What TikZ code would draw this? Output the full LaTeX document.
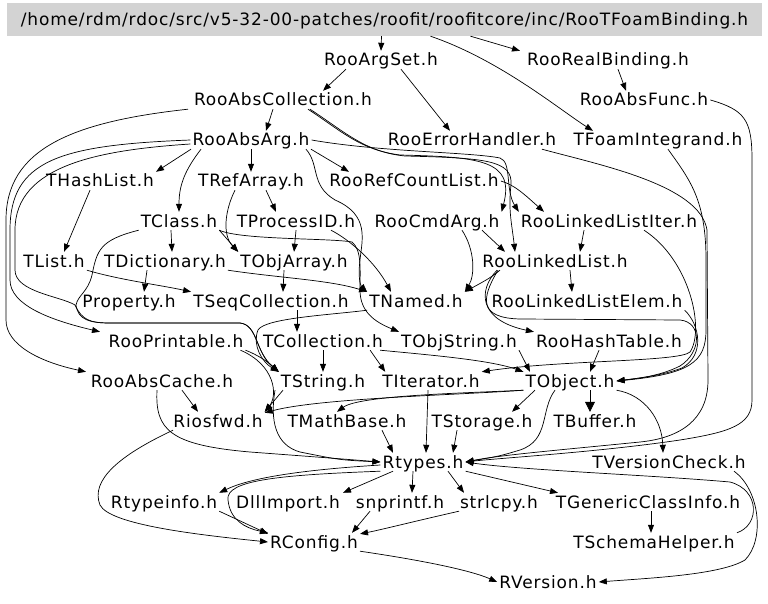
\documentclass[tikz,border=0pt]{standalone}
\usepackage{fontspec}
\newfontfamily\dvs{DejaVu Sans}[LetterSpace=5]
\usetikzlibrary{arrows.meta}
\tikzset{
  hdr/.style={font=\dvs\fontsize{17}{19}\selectfont, inner xsep=2pt, inner ysep=3pt, text height=12pt, text depth=0pt},
  topbox/.style={hdr, fill={rgb,255:red,211;green,211;blue,211}, minimum width=755pt, minimum height=33pt},
  e/.style={draw=black, line width=0.7pt, -{Triangle[length=8pt,width=6pt]}},
  eb/.style={draw=black, line width=0.7pt, -{Triangle[length=10pt,width=10pt]}},
}
\begin{document}
\begin{tikzpicture}[x=1pt,y=-1pt]
\useasboundingbox (0,0) rectangle (768,604);
\node[topbox] (top) at (384.5,19.5) {/home/rdm/rdoc/src/v5-32-00-patches/roofit/roofitcore/inc/RooTFoamBinding.h};
\node[hdr] (argset) at (381,60) {RooArgSet.h};
\node[hdr] (realbind) at (608,60) {RooRealBinding.h};
\node[hdr] (abscoll) at (283,100) {RooAbsCollection.h};
\node[hdr] (absfunc) at (644,100) {RooAbsFunc.h};
\node[hdr] (absarg) at (251,140) {RooAbsArg.h};
\node[hdr] (errh) at (472,140) {RooErrorHandler.h};
\node[hdr] (foam) at (658,140) {TFoamIntegrand.h};
\node[hdr] (hashlist) at (100,181) {THashList.h};
\node[hdr] (refarray) at (251,181) {TRefArray.h};
\node[hdr] (refcount) at (414,181) {RooRefCountList.h};
\node[hdr] (tclass) at (179,221) {TClass.h};
\node[hdr] (procid) at (296,221) {TProcessID.h};
\node[hdr] (cmdarg) at (437,221) {RooCmdArg.h};
\node[hdr] (lliter) at (609,221) {RooLinkedListIter.h};
\node[hdr] (tlist) at (54,261) {TList.h};
\node[hdr] (tdict) at (165,261) {TDictionary.h};
\node[hdr] (objarray) at (294,261) {TObjArray.h};
\node[hdr] (llist) at (555,261) {RooLinkedList.h};
\node[hdr] (prop) at (129,301) {Property.h};
\node[hdr] (seqcoll) at (271,301) {TSeqCollection.h};
\node[hdr] (tnamed) at (416,301) {TNamed.h};
\node[hdr] (llelem) at (587,301) {RooLinkedListElem.h};
\node[hdr] (printable) at (176,341) {RooPrintable.h};
\node[hdr] (tcoll) at (323,341) {TCollection.h};
\node[hdr] (objstring) at (459,341) {TObjString.h};
\node[hdr] (hashtable) at (609,341) {RooHashTable.h};
\node[hdr] (abscache) at (162,381) {RooAbsCache.h};
\node[hdr] (tstring) at (323,381) {TString.h};
\node[hdr] (titer) at (431,381) {TIterator.h};
\node[hdr] (tobject) at (570,381) {TObject.h};
\node[hdr] (riosfwd) at (218,421) {Riosfwd.h};
\node[hdr] (mathbase) at (347,421) {TMathBase.h};
\node[hdr] (storage) at (482,421) {TStorage.h};
\node[hdr] (tbuffer) at (595,421) {TBuffer.h};
\node[hdr] (rtypes) at (423,462) {Rtypes.h};
\node[hdr] (vcheck) at (669,462) {TVersionCheck.h};
\node[hdr] (rtypeinfo) at (164,502) {Rtypeinfo.h};
\node[hdr] (dllimport) at (288,502) {DllImport.h};
\node[hdr] (snprintf) at (400,502) {snprintf.h};
\node[hdr] (strlcpy) at (499,502) {strlcpy.h};
\node[hdr] (genclass) at (648,502) {TGenericClassInfo.h};
\node[hdr] (rconfig) at (314,542) {RConfig.h};
\node[hdr] (schema) at (654,542) {TSchemaHelper.h};
\node[hdr] (rversion) at (548,582) {RVersion.h};

% top level
\draw[e] ([xshift=-3]top.south) -- (argset.north);
\draw[e] ([xshift=86]top.south) -- ([xshift=-88]realbind.north);
\draw[e] ([xshift=46]top.south) .. controls (500,60) and (560,110) .. ([xshift=-65]foam.north);
\draw[e] ([xshift=-35]argset.south) -- ([xshift=40]abscoll.north);
\draw[e] ([xshift=20]argset.south) -- ([xshift=-22]errh.north);
\draw[e] ([xshift=10]realbind.south) -- ([xshift=-18]absfunc.north);
\draw[e] ([xshift=-10]abscoll.south) -- ([xshift=15]absarg.north);
% left side long curves
\draw[e] ([xshift=-95]abscoll.south) .. controls (70,122) and (6,150) .. (6,220) -- (6,320) .. controls (6,345) and (40,362) .. ([xshift=-76]abscache.north);
\draw[e] (absarg.west) .. controls (60,145) and (10,160) .. (10,230) -- (10,280) .. controls (10,305) and (50,320) .. ([xshift=-76]printable.north);
\draw[e] ([yshift=-4]absarg.west) .. controls (100,150) and (15,165) .. (15,230) -- (15,270) .. controls (15,292) and (60,296) .. (75,305) .. controls (82,320) and (90,323) .. (110,323) -- (240,323) .. controls (258,325) and (255,352) .. (tstring.north west);
% RooAbsArg
\draw[e] ([xshift=-60]absarg.south) -- (hashlist.north east);
\draw[e] (absarg.south) -- (refarray.north);
\draw[e] ([xshift=60]absarg.south) -- ([xshift=-65]refcount.north);
\draw[e] ([xshift=-50]absarg.south) .. controls (185,170) and (179,185) .. (tclass.north);
\draw[e] ([xshift=55]absarg.south) .. controls (320,165) and (310,185) .. (335,200) .. controls (370,215) and (362,240) .. (360,260) .. controls (358,275) and (360,285) .. (tnamed.north west);
\draw[e] (absarg.east) .. controls (380,152) and (470,152) .. (500,158) .. controls (512,162) and (505,190) .. (lliter.north west);
% RooAbsCollection right bundle
\draw[e] ([xshift=25]abscoll.south) .. controls (340,130) and (360,150) .. (400,155) .. controls (480,157) and (515,160) .. (cmdarg.north east);
\draw[e] ([xshift=27]abscoll.south) .. controls (345,132) and (365,152) .. (405,156) .. controls (485,158) and (513,160) .. (511,185) .. controls (508,210) and (512,225) .. ([xshift=-40]llist.north);
\draw[e] (refcount.east) .. controls (515,185) and (525,195) .. ([xshift=-65]lliter.north);
% middle
\draw[e] ([xshift=-10]hashlist.south) -- ([xshift=10]tlist.north);
\draw[e] ([xshift=15]refarray.south) -- ([xshift=-20]procid.north);
\draw[e] ([xshift=-16]refarray.south) .. controls (225,210) and (222,235) .. (objarray.north west);
\draw[e] ([xshift=-8]tclass.south) -- ([xshift=7]tdict.north);
\draw[e] (tclass.south east) -- (objarray.north west);
\draw[e] (tclass.south east) .. controls (240,240) and (330,238) .. (352,242) .. controls (362,250) and (360,270) .. (360,290) .. controls (360,312) and (375,322) .. (objstring.north west);
\draw[e] (tclass.south west) .. controls (100,240) and (97,250) .. (92,275) .. controls (88,292) and (78,295) .. (76,305) .. controls (78,320) and (90,323) .. (110,323) -- (240,323) .. controls (258,325) and (255,352) .. (tstring.north west);
\draw[e] (procid.south) -- (objarray.north);
\draw[e] ([xshift=35]procid.south) .. controls (350,240) and (375,262) .. ([xshift=-25]tnamed.north);
\draw[e] (tlist.south east) .. controls (120,280) and (160,285) .. (seqcoll.north west);
\draw[e] ([xshift=-18]tdict.south) -- ([xshift=15]prop.north);
\draw[e] (tdict.south east) .. controls (280,278) and (330,280) .. (tnamed.north west);
\draw[e] ([xshift=-10]objarray.south) -- ([xshift=12]seqcoll.north);
\draw[e] ([xshift=45]cmdarg.south) -- ([xshift=-50]llist.north);
\draw[e] ([xshift=25]cmdarg.south) .. controls (475,250) and (475,275) .. (tnamed.north east);
\draw[e] ([xshift=-25]lliter.south) -- ([xshift=25]llist.north);
\draw[e] ([xshift=35]lliter.south) .. controls (690,260) and (705,330) .. (690,352) .. controls (680,362) and (560,360) .. (titer.north east);
\draw[e] ([xshift=-55]llist.south) .. controls (490,278) .. (tnamed.north east);
\draw[e] ([xshift=-58]llist.south) .. controls (478,290) and (478,320) .. (hashtable.north west);
\draw[e] ([xshift=15]llist.south) -- ([xshift=-15]llelem.north);
\draw[e] ([xshift=-57]llist.south) .. controls (480,300) and (480,318) .. (520,319) -- (680,320) .. controls (702,322) and (702,352) .. (680,366) .. controls (660,376) and (640,378) .. (tobject.east);
\draw[e] (llelem.south east) .. controls (700,325) and (705,355) .. (682,368) .. controls (660,376) and (640,378) .. (tobject.east);
\draw[e] ([xshift=10]foam.south) .. controls (690,180) and (706,200) .. (706,260) -- (706,330) .. controls (706,362) and (690,374) .. (tobject.east);
\draw[e] ([xshift=70]errh.south) .. controls (600,165) and (700,185) .. (707,230) -- (708,380) .. controls (708,420) and (680,438) .. (640,442) .. controls (560,450) and (500,455) .. (rtypes.east);
\draw[e] (absfunc.east) .. controls (745,110) and (752,120) .. (752,160) -- (752,400) .. controls (752,425) and (730,432) .. (680,440) .. controls (600,452) and (500,458) .. (rtypes.east);
% lower middle
\draw[e] ([xshift=26]seqcoll.south) -- ([xshift=-26]tcoll.north);
\draw[e] (tnamed.south west) .. controls (330,315) and (265,318) .. (258,330) .. controls (252,345) and (262,362) .. (tstring.north west);
\draw[e] (printable.south east) .. controls (258,355) and (268,362) .. (tstring.north west);
\draw[e] ([xshift=-5]printable.south east) .. controls (275,365) and (278,395) .. (riosfwd.north east);
\draw[e] (tcoll.south) -- (tstring.north);
\draw[e] ([xshift=-15]tcoll.south east) -- ([xshift=5]titer.north west);
\draw[e] ([xshift=-5]tcoll.south east) .. controls (430,355) and (490,360) .. (tobject.north west);
\draw[e] (objstring.south east) -- ([xshift=-40]tobject.north);
\draw[e] ([xshift=-10]hashtable.south) -- ([xshift=20]tobject.north);
\draw[e] ([xshift=20]abscache.south) -- ([xshift=-20]riosfwd.north);
\draw[e] ([xshift=-5]abscache.south) .. controls (155,430) and (170,445) .. (250,452) .. controls (330,458) .. (rtypes.west);
\draw[e] ([xshift=-40]tstring.south) -- (riosfwd.north east);
\draw[e] ([xshift=-48]tstring.south) .. controls (270,420) and (275,445) .. (300,452) .. controls (340,460) .. (rtypes.west);
\draw[e] (tobject.south west) .. controls (460,395) and (320,398) .. (riosfwd.10);
\draw[e] (tobject.south west) .. controls (470,393) and (360,395) .. ([xshift=-10]mathbase.north);
\draw[e] ([xshift=-35]tobject.south) -- ([xshift=30]storage.north);
\draw[e] ([xshift=-15]tobject.south) .. controls (540,410) and (550,440) .. (520,450) .. controls (500,456) .. (rtypes.east);
\draw[eb] ([xshift=20]tobject.south) -- ([xshift=-5]tbuffer.north);
\draw[e] (tobject.south east) .. controls (645,395) and (662,420) .. ([xshift=-6]vcheck.north);
\draw[e] ([xshift=-3]titer.south) -- ([xshift=3]rtypes.north);
\draw[e] ([xshift=35]mathbase.south) -- ([xshift=-30]rtypes.north);
\draw[e] ([xshift=-25]storage.south) -- ([xshift=30]rtypes.north);
% bottom
\draw[e] ([yshift=-3]rtypes.west) .. controls (300,470) and (250,478) .. (rtypeinfo.north east);
\draw[e] (rtypes.south west) .. controls (280,475) and (225,480) .. (228,500) .. controls (230,520) and (245,528) .. (rconfig.north west);
\draw[e] (rtypeinfo.south east) -- (rconfig.170);
\draw[e] ([xshift=-30]rtypes.south) -- ([xshift=55]dllimport.north);
\draw[e] ([xshift=-10]rtypes.south) -- ([xshift=12]snprintf.north);
\draw[e] ([xshift=25]rtypes.south) -- ([xshift=-35]strlcpy.north);
\draw[e] (rtypes.south east) -- ([xshift=-90]genclass.north);
\draw[e] ([xshift=3]genclass.south) -- ([xshift=-3]schema.north);
\draw[e] (schema.north east) .. controls (760,525) and (760,490) .. (730,482) .. controls (650,475) and (520,470) .. (rtypes.east);
\draw[e] ([xshift=65]vcheck.south) .. controls (760,490) and (765,540) .. (745,560) .. controls (720,575) and (650,578) .. (rversion.east);
\draw[e] ([xshift=-40]strlcpy.south) .. controls (420,520) and (380,530) .. (rconfig.10);
\draw[e] ([xshift=-30]snprintf.south) -- ([xshift=38]rconfig.north);
\draw[e] (rconfig.south east) .. controls (420,560) and (470,570) .. (rversion.west);
\draw[e] ([xshift=-45]riosfwd.south) .. controls (120,455) and (90,480) .. (100,505) .. controls (110,525) and (200,535) .. (rconfig.west);
\end{tikzpicture}
\end{document}
